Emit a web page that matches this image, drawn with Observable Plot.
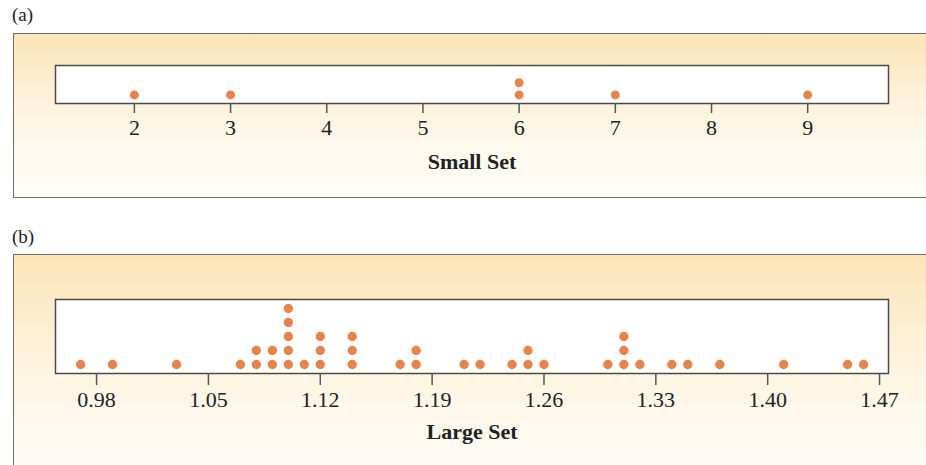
<!DOCTYPE html>
<html>
<head>
<meta charset="utf-8">
<script src="https://cdn.jsdelivr.net/npm/d3@7"></script>
<script src="https://cdn.jsdelivr.net/npm/@observablehq/plot@0.6"></script>
<style>
  html, body { margin: 0; padding: 0; background: #fff; }
  #page { position: relative; width: 926px; height: 465px; overflow: hidden; font-family: "Liberation Serif", "Times New Roman", serif; }
  .tag { position: absolute; left: 12px; font-size: 19px; line-height: 19px; color: #222; }
  .panel { position: absolute; left: 13px; width: 960px; box-sizing: border-box;
           border: 1.5px solid #6e6e6e;
           background: linear-gradient(to bottom, #fbe4b6 0%, #fdf0d6 35%, #fef8ec 65%, #fffdf8 100%); }
  .chart { position: absolute; left: 0; }
  .chart svg { background: transparent !important; display: block; }
</style>
</head>
<body>
<div id="page">
  <div class="tag" style="top:5px">(a)</div>
  <div class="panel" style="top:33px;height:165px"></div>
  <div id="chartA" class="chart" style="top:33px"></div>
  <div class="tag" style="top:227px">(b)</div>
  <div class="panel" style="top:254px;height:240px;border-bottom:none"></div>
  <div id="chartB" class="chart" style="top:254px"></div>
</div>
<script>
// Small set values
const smallSet = [2, 3, 6, 6, 7, 9];
const smallTicks = [2, 3, 4, 5, 6, 7, 8, 9];
const smallLabel = "Small Set";

// Large set values
const largeSet = [
  0.97, 0.99, 1.03, 1.07,
  1.08, 1.08, 1.09, 1.09,
  1.10, 1.10, 1.10, 1.10, 1.10,
  1.11, 1.12, 1.12, 1.12,
  1.14, 1.14, 1.14,
  1.17, 1.18, 1.18,
  1.21, 1.22, 1.24, 1.25, 1.25, 1.26,
  1.30, 1.31, 1.31, 1.31, 1.32,
  1.34, 1.35, 1.37, 1.41, 1.45, 1.46
];
const largeTicks = [0.98, 1.05, 1.12, 1.19, 1.26, 1.33, 1.40, 1.47];
const largeLabel = "Large Set";

const dotColor = "#e8834c";
const font = "Liberation Serif";

function dotPlot({values, ticks, label, xDomain, yDomain, height, marginTop, marginBottom, tickSize, r, fmt}) {
  return Plot.plot({
    width: 926,
    height,
    marginLeft: 55,
    marginRight: 38,
    marginTop,
    marginBottom,
    style: {fontFamily: font, fontSize: "22px", background: "transparent", color: "#222"},
    x: {domain: xDomain},
    y: {domain: yDomain, axis: null},
    marks: [
      Plot.frame({fill: "white", stroke: "#4a4a4a", strokeWidth: 1.5}),
      Plot.axisX({
        ticks, tickSize, tickPadding: 6, tickFormat: fmt,
        stroke: "#555", strokeWidth: 1.5, fontSize: 22, fill: "#222",
        label, labelAnchor: "center", labelOffset: 65, labelArrow: "none",
        fontWeight: "normal"
      }),
      Plot.dot(values, Plot.stackY2({x: d => d, y: 1, r, fill: dotColor, stroke: "none"}))
    ]
  });
}

const a = dotPlot({
  values: smallSet, ticks: smallTicks, label: smallLabel,
  xDomain: [1.18, 9.84], yDomain: [0.29, 3.42],
  height: 165, marginTop: 32, marginBottom: 95, tickSize: 10, r: 4.5,
  fmt: d3.format("d")
});
document.getElementById("chartA").append(a);

const b = dotPlot({
  values: largeSet, ticks: largeTicks, label: largeLabel,
  xDomain: [0.9543, 1.4756], yDomain: [0.357, 5.64],
  height: 211, marginTop: 45, marginBottom: 92, tickSize: 12, r: 4.7,
  fmt: d3.format(".2f")
});
document.getElementById("chartB").append(b);

// Bold axis labels
document.querySelectorAll("svg g[aria-label='x-axis label'] text").forEach(t => {
  t.setAttribute("font-weight", "bold");
});
</script>
</body>
</html>
